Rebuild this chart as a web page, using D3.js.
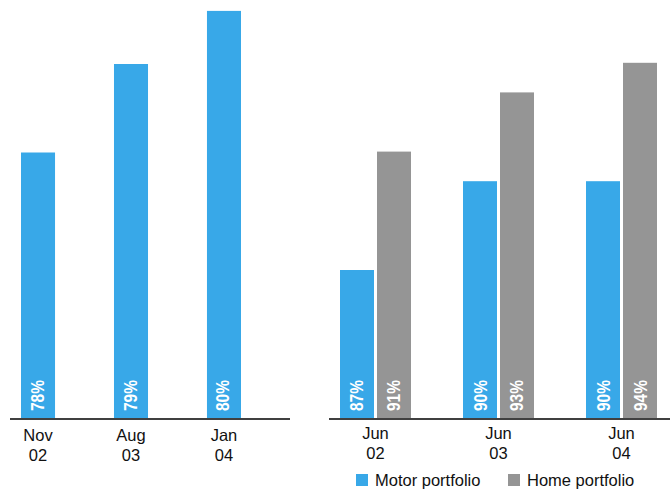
<!DOCTYPE html>
<html>
<head>
<meta charset="utf-8">
<script src="https://cdn.jsdelivr.net/npm/d3@7/dist/d3.min.js"></script>
<style>
  html, body { margin: 0; padding: 0; background: #fff; }
  svg { display: block; font-family: "Liberation Sans", Arial, sans-serif; }
</style>
</head>
<body>
<svg id="chart" width="670" height="491"></svg>
<script>
// ---- Data ----
const leftCategories = [["Nov", "02"], ["Aug", "03"], ["Jan", "04"]];
const leftValues = [78.0, 79.0, 79.6];
const leftLabels = ["78%", "79%", "80%"];

const rightCategories = [["Jun", "02"], ["Jun", "03"], ["Jun", "04"]];
const seriesNames = ["Motor portfolio", "Home portfolio"];
const motorValues = [87, 90, 90];
const homeValues = [91, 93, 94];
const motorLabels = ["87%", "90%", "90%"];
const homeLabels = ["91%", "93%", "94%"];

const colors = ["#38a8e8", "#959595"];

// ---- Drawing ----
const svg = d3.select("#chart");
const baseY = 418;

// Left panel
const xL = d3.scaleBand().domain(d3.range(leftValues.length)).range([21, 241]).paddingInner(0.634).paddingOuter(0);
const yL = d3.scaleLinear().domain([75, 79.7]).range([baseY, baseY - 4.7 * 88.5]);

const gL = svg.append("g");
gL.selectAll("rect").data(leftValues).join("rect")
  .attr("x", (d, i) => xL(i))
  .attr("y", d => yL(d))
  .attr("width", xL.bandwidth())
  .attr("height", d => baseY - yL(d))
  .attr("fill", colors[0]);

gL.selectAll("text.val").data(leftLabels).join("text")
  .attr("class", "val")
  .attr("transform", (d, i) => `translate(${xL(i) + xL.bandwidth() / 2 + 5.5},${baseY - 7}) rotate(-90)`)
  .attr("fill", "#fff")
  .attr("font-weight", "bold")
  .attr("font-size", 17.5)
  .attr("textLength", 31)
  .attr("lengthAdjust", "spacingAndGlyphs")
  .text(d => d);

gL.append("line").attr("x1", 10).attr("x2", 290).attr("y1", baseY + 1).attr("y2", baseY + 1)
  .attr("stroke", "#000").attr("stroke-width", 1.5);

leftCategories.forEach((c, i) => {
  const t = gL.append("text").attr("text-anchor", "middle").attr("font-size", 16.5).attr("fill", "#111");
  t.append("tspan").attr("x", xL(i) + xL.bandwidth() / 2).attr("y", 441).text(c[0]);
  t.append("tspan").attr("x", xL(i) + xL.bandwidth() / 2).attr("y", 461).text(c[1]);
});

// Right panel
const x0 = d3.scaleBand().domain(d3.range(rightCategories.length)).range([340, 657]).paddingInner(0.4228).paddingOuter(0);
const x1 = d3.scaleBand().domain([0, 1]).range([0, x0.bandwidth()]).paddingInner(0.081).paddingOuter(0);
const yR = d3.scaleLinear().domain([82, 96]).range([baseY, baseY - 14 * 29.6]);

const rows = rightCategories.map((c, i) => [
  { s: 0, v: motorValues[i], l: motorLabels[i] },
  { s: 1, v: homeValues[i], l: homeLabels[i] }
]);

const gR = svg.append("g");
const groups = gR.selectAll("g.grp").data(rows).join("g")
  .attr("class", "grp")
  .attr("transform", (d, i) => `translate(${x0(i)},0)`);

groups.selectAll("rect").data(d => d).join("rect")
  .attr("x", d => x1(d.s))
  .attr("y", d => yR(d.v))
  .attr("width", x1.bandwidth())
  .attr("height", d => baseY - yR(d.v))
  .attr("fill", d => colors[d.s]);

groups.selectAll("text").data(d => d).join("text")
  .attr("transform", d => `translate(${x1(d.s) + x1.bandwidth() / 2 + 6.5},${baseY - 7}) rotate(-90)`)
  .attr("fill", "#fff")
  .attr("font-weight", "bold")
  .attr("font-size", 17.5)
  .attr("textLength", 31)
  .attr("lengthAdjust", "spacingAndGlyphs")
  .text(d => d.l);

gR.append("line").attr("x1", 329).attr("x2", 670).attr("y1", baseY + 1).attr("y2", baseY + 1)
  .attr("stroke", "#000").attr("stroke-width", 1.5);

rightCategories.forEach((c, i) => {
  const cx = x0(i) + x0.bandwidth() / 2;
  const t = gR.append("text").attr("text-anchor", "middle").attr("font-size", 16.5).attr("fill", "#111");
  t.append("tspan").attr("x", cx).attr("y", 439).text(c[0]);
  t.append("tspan").attr("x", cx).attr("y", 459).text(c[1]);
});

// Legend
const legendX = [356, 508];
seriesNames.forEach((name, i) => {
  svg.append("rect").attr("x", legendX[i]).attr("y", 474).attr("width", 12).attr("height", 12).attr("fill", colors[i]);
  svg.append("text").attr("x", legendX[i] + 19).attr("y", 486).attr("font-size", 16.5).attr("fill", "#111").text(name);
});
</script>
</body>
</html>
